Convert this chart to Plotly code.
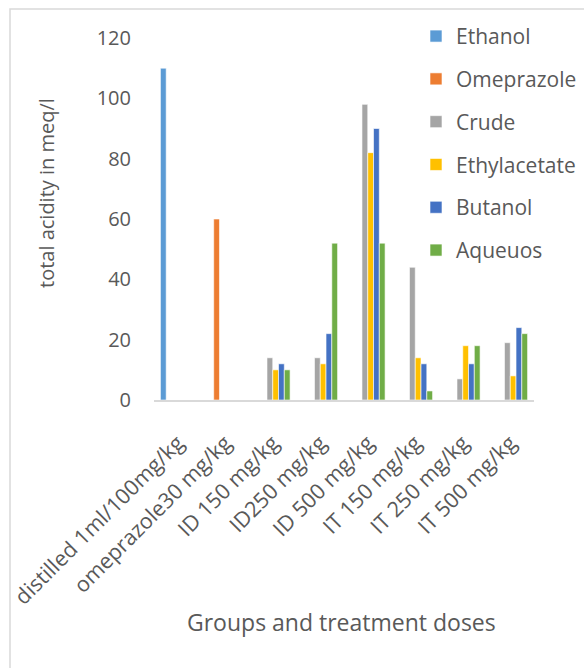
import plotly.graph_objects as go

groups = ["distilled 1ml/100mg/kg", "omeprazole30 mg/kg", "ID 150 mg/kg", "ID250 mg/kg",
          "ID 500 mg/kg", "IT 150 mg/kg", "IT 250 mg/kg", "IT 500 mg/kg"]

ethanol      = [110, 0, 0, 0, 0, 0, 0, 0]
omeprazole   = [0, 60, 0, 0, 0, 0, 0, 0]
crude        = [0, 0, 14, 14, 98, 44, 7, 19]
ethylacetate = [0, 0, 10, 12, 82, 14, 18, 8]
butanol      = [0, 0, 12, 22, 90, 12, 12, 24]
aqueous      = [0, 0, 10, 52, 52, 3, 18, 22]

series = [
    ("Ethanol", ethanol, "#5B9BD5"),
    ("Omeprazole", omeprazole, "#ED7D31"),
    ("Crude", crude, "#A5A5A5"),
    ("Ethylacetate", ethylacetate, "#FFC000"),
    ("Butanol", butanol, "#4472C4"),
    ("Aqueuos", aqueous, "#70AD47"),
]

text_color = "#595959"
font_family = "Open Sans, sans-serif"

fig = go.Figure()
for name, vals, color in series:
    fig.add_trace(go.Bar(
        x=groups, y=vals, name=name, legendgroup=name,
        marker=dict(color=color, line=dict(color="white", width=0.6)),
    ))

W, H = 584, 668
ml, mr, mt, mb = 154, 50, 38, 268
pw, ph = W - ml - mr, H - mt - mb

fig.update_layout(
    width=W, height=H,
    margin=dict(l=ml, r=mr, t=mt, b=mb, autoexpand=False),
    paper_bgcolor="white", plot_bgcolor="white",
    barmode="group", bargap=0.27, bargroupgap=0,
    font=dict(family=font_family, color=text_color, size=20),
    legend=dict(
        x=(416 - ml) / pw, xanchor="left",
        y=1.061, yanchor="top",
        font=dict(size=21, color=text_color),
        tracegroupgap=12.5, bgcolor="rgba(0,0,0,0)",
        itemclick=False,
    ),
    xaxis=dict(
        tickangle=-45, showline=True, linecolor="#D9D9D9", linewidth=1.5,
        ticks="", tickfont=dict(size=21.5, color=text_color), ticklabelstandoff=20,
        showgrid=False, automargin=False,
    ),
    yaxis=dict(
        range=[0, 120], dtick=20, showgrid=False, zeroline=False, showline=False,
        ticks="", tickfont=dict(size=20, color=text_color), ticklabelstandoff=22,
        automargin=False,
    ),
    annotations=[
        dict(
            text="total acidity in meq/l", textangle=-90, showarrow=False,
            xref="paper", yref="paper", x=(46 - ml) / pw, y=(H - mb - 193) / ph,
            xanchor="center", yanchor="middle",
            font=dict(size=20, color=text_color),
        ),
        dict(
            text="Groups and treatment doses", showarrow=False,
            xref="paper", yref="paper", x=(341 - ml) / pw, y=(H - mb - 622) / ph,
            xanchor="center", yanchor="middle",
            font=dict(size=23, color=text_color),
        ),
    ],
    shapes=[dict(
        type="path", xref="paper", yref="paper",
        path="M {x0},{y1} L {x0},{y0} L {x1},{y0}".format(
            x0=(10 - ml) / pw, y0=(H - mb - 9) / ph,
            x1=(W + 5 - ml) / pw, y1=(H - mb - 672) / ph),
        line=dict(color="#D9D9D9", width=1.5),
    )],
)

fig.write_html("out.html")
